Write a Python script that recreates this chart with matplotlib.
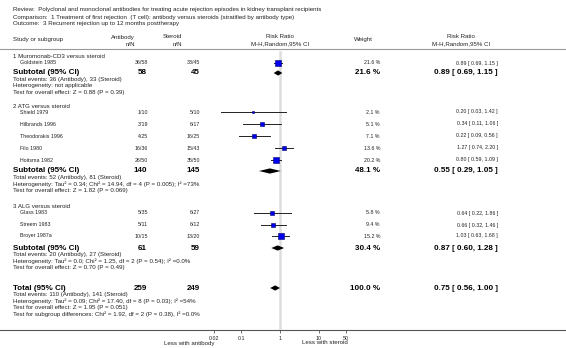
import matplotlib.pyplot as plt
import numpy as np

plt.rcParams['font.family'] = ['Liberation Sans', 'DejaVu Sans']

# header text
review = 'Review:  Polyclonal and monoclonal antibodies for treating acute rejection episodes in kidney transplant recipients'
comparison = 'Comparison:  1 Treatment of first rejection  (T cell): antibody versus steroids (stratified by antibody type)'
outcome = 'Outcome:  3 Recurrent rejection up to 12 months posttherapy'

# study rows
studies = ['Goldstein 1985', 'Shield 1979', 'Hilbrands 1996', 'Theodorakis 1996', 'Filo 1980',
           'Hoitsma 1982', 'Glass 1983', 'Streem 1983', 'Broyer 1987a']
ab_nN = ['36/58', '1/10', '3/19', '4/25', '16/36', '26/50', '5/35', '5/11', '10/15']
st_nN = ['33/45', '5/10', '6/17', '16/25', '15/43', '35/50', '6/27', '6/12', '13/20']
weights = [21.6, 2.1, 5.1, 7.1, 13.6, 20.2, 5.8, 9.4, 15.2]
rr = [0.89, 0.20, 0.34, 0.22, 1.27, 0.80, 0.64, 0.66, 1.03]
lo = [0.69, 0.03, 0.11, 0.09, 0.74, 0.59, 0.22, 0.32, 0.63]
hi = [1.15, 1.42, 1.06, 0.56, 2.20, 1.09, 1.86, 1.46, 1.68]
study_y = [63, 112, 124, 136, 148, 160, 213, 225, 236]

# subgroup headers
groups = ['1 Muromonab-CD3 versus steroid', '2 ATG versus steroid', '3 ALG versus steroid']
group_y = [56, 106, 206]

# subtotals and total
sub_labels = ['Subtotal (95% CI)', 'Subtotal (95% CI)', 'Subtotal (95% CI)', 'Total (95% CI)']
sub_ab = ['58', '140', '61', '259']
sub_st = ['45', '145', '59', '249']
sub_w = ['21.6 %', '48.1 %', '30.4 %', '100.0 %']
sub_rr = [0.89, 0.55, 0.87, 0.75]
sub_lo = [0.69, 0.29, 0.60, 0.56]
sub_hi = [1.15, 1.05, 1.28, 1.00]
sub_y = [73, 171, 248, 288]
sub_notes = [
    ['Total events: 36 (Antibody), 33 (Steroid)',
     'Heterogeneity: not applicable',
     'Test for overall effect: Z = 0.88 (P = 0.39)'],
    ['Total events: 52 (Antibody), 81 (Steroid)',
     'Heterogeneity: Tau\u00b2 = 0.34; Chi\u00b2 = 14.94, df = 4 (P = 0.005); I\u00b2 =73%',
     'Test for overall effect: Z = 1.82 (P = 0.069)'],
    ['Total events: 20 (Antibody), 27 (Steroid)',
     'Heterogeneity: Tau\u00b2 = 0.0; Chi\u00b2 = 1.25, df = 2 (P = 0.54); I\u00b2 =0.0%',
     'Test for overall effect: Z = 0.70 (P = 0.49)'],
    ['Total events: 110 (Antibody), 141 (Steroid)',
     'Heterogeneity: Tau\u00b2 = 0.09; Chi\u00b2 = 17.40, df = 8 (P = 0.03); I\u00b2 =54%',
     'Test for overall effect: Z = 1.95 (P = 0.051)',
     'Test for subgroup differences: Chi\u00b2 = 1.92, df = 2 (P = 0.38), I\u00b2 =0.0%'],
]

ticks = [0.02, 0.1, 1, 10, 50]
tick_labels = ['0.02', '0.1', '1', '10', '50']

W, H = 566, 348
fig = plt.figure(figsize=(W / 100, H / 100), dpi=100)

# overlay axes in pixel coordinates for the table text
ax = fig.add_axes([0, 0, 1, 1])
ax.set_xlim(0, W)
ax.set_ylim(H, 0)
ax.axis('off')

note = 4.4   # titles, headers and footnotes
row = 3.8    # study rows
big = 5.8    # bold subtotal rows
col = '#222222'

ax.text(13, 10, review, fontsize=note, va='center', color=col)
ax.text(13, 17, comparison, fontsize=note, va='center', color=col)
ax.text(13, 24, outcome, fontsize=note, va='center', color=col)

ax.text(13, 39, 'Study or subgroup', fontsize=note, va='center', color=col)
ax.text(135, 37, 'Antibody', fontsize=note, va='center', ha='right', color=col)
ax.text(135, 44, 'n/N', fontsize=note, va='center', ha='right', color=col)
ax.text(182, 37, 'Steroid', fontsize=note, va='center', ha='right', color=col)
ax.text(182, 44, 'n/N', fontsize=note, va='center', ha='right', color=col)
ax.text(280, 37, 'Risk Ratio', fontsize=note, va='center', ha='center', color=col)
ax.text(280, 44, 'M-H,Random,95% CI', fontsize=note, va='center', ha='center', color=col)
ax.text(373, 39, 'Weight', fontsize=note, va='center', ha='right', color=col)
ax.text(461, 37, 'Risk Ratio', fontsize=note, va='center', ha='center', color=col)
ax.text(461, 44, 'M-H,Random,95% CI', fontsize=note, va='center', ha='center', color=col)
ax.plot([0, W], [49, 49], color='#999999', lw=0.8)

for g, y in zip(groups, group_y):
    ax.text(13, y, g, fontsize=note, va='center', color=col)

for i, s in enumerate(studies):
    y = study_y[i]
    ax.text(20, y, s, fontsize=row, va='center', color=col)
    ax.text(148, y, ab_nN[i], fontsize=row, va='center', ha='right', color=col)
    ax.text(200, y, st_nN[i], fontsize=row, va='center', ha='right', color=col)
    ax.text(380, y, '%.1f %%' % weights[i], fontsize=row, va='center', ha='right', color=col)
    ax.text(498, y, '%.2f [ %.2f, %.2f ]' % (rr[i], lo[i], hi[i]), fontsize=row,
            va='center', ha='right', color=col)

for i, lab in enumerate(sub_labels):
    y = sub_y[i]
    ax.text(13, y, lab, fontsize=big, va='center', fontweight='bold')
    ax.text(147, y, sub_ab[i], fontsize=big, va='center', ha='right', fontweight='bold')
    ax.text(200, y, sub_st[i], fontsize=big, va='center', ha='right', fontweight='bold')
    ax.text(380, y, sub_w[i], fontsize=big, va='center', ha='right', fontweight='bold')
    ax.text(498, y, '%.2f [ %.2f, %.2f ]' % (sub_rr[i], sub_lo[i], sub_hi[i]),
            fontsize=big, va='center', ha='right', fontweight='bold')
    for j, n in enumerate(sub_notes[i]):
        ax.text(13, y + 6.5 + 6.5 * j, n, fontsize=note, va='center', color=col)

# full width axis line
ax.plot([0, W], [330, 330], color='#555555', lw=0.8)
ax.text(214, 343, 'Less with antibody', fontsize=note, va='center', ha='right', color=col)
ax.text(302, 343, 'Less with steroid', fontsize=note, va='center', ha='left', color=col)

# forest plot axes: 1 at x=280px, 39 px per decade
px0, px1 = 200, 360
fx = fig.add_axes([px0 / W, (H - 330) / H, (px1 - px0) / W, 330 / H])
fx.set_xscale('log')
fx.set_xlim(10 ** ((px0 - 280) / 39), 10 ** ((px1 - 280) / 39))
fx.set_ylim(330, 0)
fx.patch.set_alpha(0)
for sp in ['top', 'left', 'right', 'bottom']:
    fx.spines[sp].set_visible(False)
fx.set_yticks([])
fx.set_xticks(ticks)
fx.set_xticklabels(tick_labels, fontsize=row, color=col)
fx.minorticks_off()
fx.tick_params(axis='x', length=2.5, width=0.6, pad=1.5, color='#555555')

fx.plot([1, 1], [52, 330], color='#dddddd', lw=1.8, zorder=0)

for i in range(len(studies)):
    y = study_y[i]
    fx.plot([lo[i], hi[i]], [y, y], color='#222222', lw=0.7, zorder=2)
    side = 1.25 * np.sqrt(weights[i]) + 0.3
    fx.plot(rr[i], y, marker='s', markersize=side / 1.389, markerfacecolor='#0000ee',
            markeredgecolor='#000066', markeredgewidth=0.4, zorder=3)

for i in range(len(sub_labels)):
    y = sub_y[i]
    fx.fill([sub_lo[i], sub_rr[i], sub_hi[i], sub_rr[i]], [y, y - 2.6, y, y + 2.6],
            color='black', lw=0, zorder=3)

fig.savefig('out.png', dpi=100)
